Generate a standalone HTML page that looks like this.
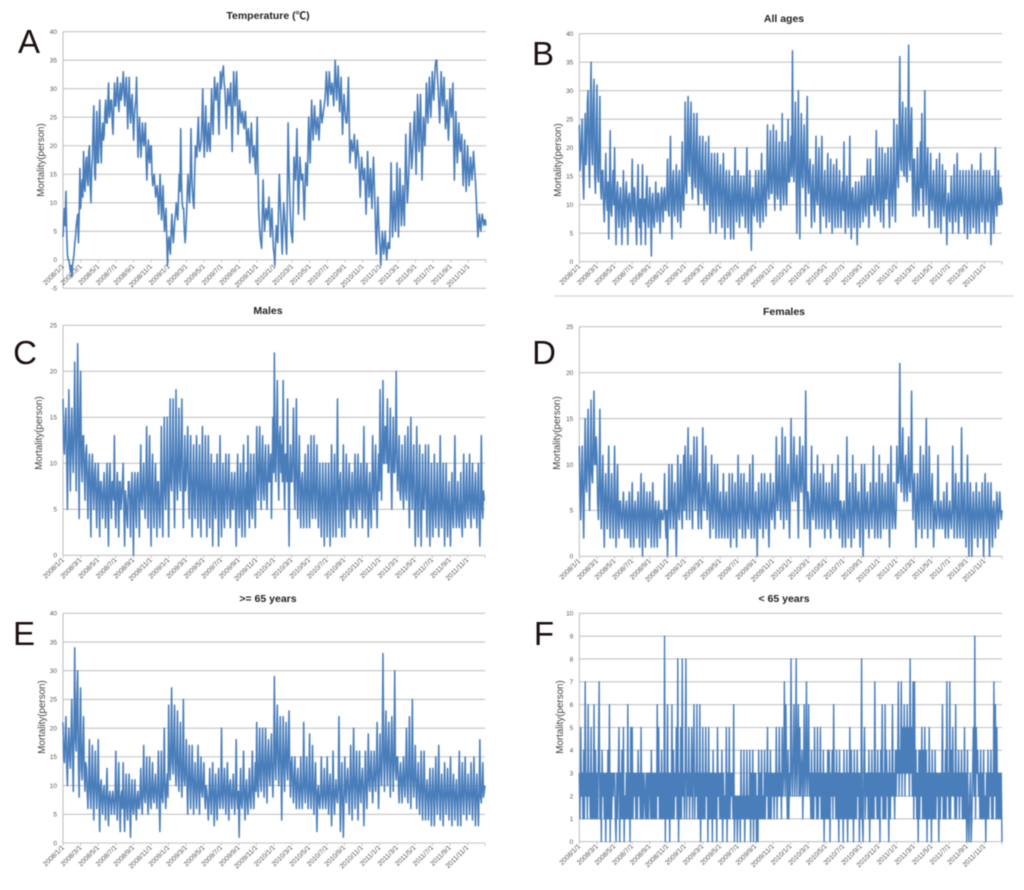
<!DOCTYPE html>
<html lang="en">
<head>
<meta charset="utf-8">
<title>Temperature and mortality time series, 2008–2011</title>
<style>
  html,body{margin:0;padding:0;background:#fff;}
  #figure{display:block;width:1024px;height:890px;filter:blur(0.45px);}
  text{font-family:"Liberation Sans","Noto Sans CJK SC",sans-serif;}
</style>
</head>
<body>
<svg id="figure" xmlns="http://www.w3.org/2000/svg" width="1024" height="890" viewBox="0 0 1024 890">
  <rect width="1024" height="890" fill="#fff"/>
  <line x1="554" y1="296" x2="1014" y2="296" stroke="#d4d4d4" stroke-width="1.2"/>
</svg>
<script>
const xTickLabels = ["2008/1/1","2008/3/1","2008/5/1","2008/7/1","2008/9/1","2008/11/1","2009/1/1","2009/3/1","2009/5/1","2009/7/1","2009/9/1","2009/11/1","2010/1/1","2010/3/1","2010/5/1","2010/7/1","2010/9/1","2010/11/1","2011/1/1","2011/3/1","2011/5/1","2011/7/1","2011/9/1","2011/11/1"];

const temperatureTicks = [-5,0,5,10,15,20,25,30,35,40];
const fortyTicks = [0,5,10,15,20,25,30,35,40];
const twentyFiveTicks = [0,5,10,15,20,25];
const tenTicks = [0,1,2,3,4,5,6,7,8,9,10];

const temperatureValues = [
4,7,9,6,12,5,1,0,0,-1,-2,-1,-3,-1,0,1,3,4,6,7,8,3,8,16,
9,12,14,11,19,13,12,17,18,14,13,19,20,13,10,16,18,24,27,15,14,21,26,17,
17,24,28,20,17,22,24,21,22,26,28,24,24,28,31,25,26,28,28,24,22,27,31,27,
27,30,32,28,26,29,31,28,29,31,33,29,27,30,32,28,23,28,32,26,24,28,29,25,
21,25,27,28,32,24,18,22,25,21,18,21,24,21,20,22,24,18,14,18,21,18,17,20,
20,15,13,14,15,13,11,12,13,11,8,11,15,11,7,10,13,8,5,7,9,4,-1,3,
4,2,1,5,8,5,3,5,7,8,10,8,7,11,15,12,23,14,10,9,9,5,3,5,
8,12,15,12,10,14,23,15,12,10,9,15,20,19,18,22,25,20,19,20,21,25,30,22,
18,23,27,22,19,22,24,20,19,24,30,26,22,27,32,29,28,30,31,26,22,28,33,30,
32,33,34,31,30,27,23,27,30,28,27,29,31,25,19,27,33,29,27,30,33,28,22,25,
28,26,24,25,26,24,23,25,26,23,20,22,23,20,17,21,24,21,18,19,20,17,15,20,
25,16,9,6,4,3,2,8,14,9,5,7,9,8,7,9,11,7,4,7,9,5,2,1,
-1,3,6,4,3,9,15,11,8,4,1,6,10,8,6,3,1,12,24,17,12,8,5,4,
3,10,18,15,14,18,23,15,8,13,18,16,14,15,15,11,7,12,17,15,13,19,25,21,
17,23,28,24,21,24,27,24,22,24,25,23,21,24,28,26,24,25,26,27,28,30,33,30,
27,30,33,31,29,30,31,29,27,31,35,31,28,31,34,30,26,29,32,27,22,26,29,27,
25,24,24,28,32,25,17,19,21,20,19,20,22,19,16,18,21,19,18,15,11,15,18,16,
14,15,16,12,8,13,19,15,11,13,16,12,9,14,18,14,10,5,1,6,11,7,4,2,
-1,2,5,3,1,3,5,2,0,2,3,2,2,9,17,10,4,8,12,8,5,10,17,10,
4,10,16,11,6,9,13,9,6,14,22,16,10,12,15,20,24,20,16,18,21,24,26,20,
15,22,29,24,19,24,29,22,14,20,25,22,20,25,31,27,24,28,32,28,25,29,33,30,
28,31,34,35,35,32,30,27,24,28,33,30,27,29,32,27,23,25,28,24,21,25,30,27,
25,28,31,22,14,20,26,21,17,20,24,21,19,20,22,17,13,17,21,16,12,16,20,16,
13,15,18,16,14,16,19,17,15,13,10,7,4,6,8,6,5,7,8,7,6,7,7,6];

const allAgesValues = [
24,16,18,22,25,15,11,20,26,17,19,28,30,18,13,26,35,20,17,28,32,15,12,24,
31,15,14,20,29,13,11,16,16,10,7,13,19,11,9,14,4,12,23,9,8,13,16,10,
20,9,3,12,14,9,6,11,13,9,3,10,16,8,6,12,14,10,3,11,12,9,7,11,
18,9,8,13,11,7,3,12,17,9,6,11,3,10,17,8,7,11,3,12,15,9,6,10,
13,8,1,11,12,7,6,10,14,9,7,12,12,8,5,11,13,9,7,12,13,9,9,12,
18,9,8,13,22,10,4,14,16,9,8,13,17,10,7,14,16,9,6,13,21,10,9,14,
28,14,12,22,29,16,15,23,28,14,11,20,26,14,13,21,26,13,10,19,22,13,12,18,
22,12,9,17,21,11,10,16,22,12,5,15,19,10,7,14,19,11,5,15,19,12,8,14,
17,10,6,14,19,11,4,13,16,10,6,13,16,9,4,12,15,10,4,13,20,10,7,12,
16,10,6,13,15,9,8,12,15,10,6,13,20,9,5,12,16,10,2,11,13,9,8,12,
16,10,7,13,16,9,6,12,19,10,7,13,16,11,8,14,24,13,11,17,23,12,12,16,
24,13,9,17,23,12,11,16,21,12,9,16,26,13,10,17,21,12,10,16,25,14,14,18,
22,15,37,18,14,20,28,15,5,17,30,14,4,18,26,15,13,20,24,14,8,18,29,14,
12,16,18,11,6,14,17,10,7,13,22,11,10,15,20,10,5,14,22,10,8,13,16,10,
6,12,19,10,7,13,18,9,5,12,17,10,6,13,18,9,6,12,16,10,6,12,14,9,
21,10,5,12,15,9,6,11,22,9,4,12,13,9,6,11,14,9,3,11,14,9,6,12,
15,10,7,12,15,9,8,13,18,10,6,12,18,10,10,13,15,9,8,12,23,11,9,14,
20,10,7,13,20,11,6,14,19,11,11,15,20,10,6,13,20,12,8,14,25,12,7,15,
24,16,13,21,36,18,16,24,28,16,15,22,27,15,14,22,38,18,16,24,27,14,8,18,
18,11,8,14,20,11,9,15,21,13,26,12,8,16,30,14,10,17,20,11,6,13,19,11,
9,13,16,10,6,12,18,10,6,12,19,10,5,11,17,10,8,12,16,9,3,10,12,9,
7,11,15,9,5,11,17,9,7,11,19,10,5,11,16,9,8,12,16,9,5,11,16,9,
4,10,16,9,5,11,17,10,6,11,16,9,5,10,16,9,5,11,19,10,7,12,16,9,
5,10,16,9,7,11,16,10,3,10,15,9,5,11,20,10,8,12,16,10,10,13,12,10];

const malesValues = [
17,12,11,14,16,11,5,12,18,12,7,13,16,11,9,14,21,12,7,14,23,13,4,15,
20,10,8,13,13,9,6,11,12,8,4,9,11,7,2,9,11,7,5,9,10,6,3,8,
10,6,2,8,8,6,4,7,9,6,3,7,10,5,1,8,10,6,4,8,8,6,13,5,
3,7,9,6,2,8,8,5,6,8,10,5,1,7,6,4,3,8,8,6,2,7,9,5,
0,7,9,5,3,8,9,6,2,7,12,6,5,8,10,6,4,8,14,7,3,8,13,6,
1,8,11,6,3,7,10,6,2,8,8,5,3,7,14,6,2,8,15,7,5,9,15,7,
2,9,17,8,7,11,17,8,3,10,18,8,6,11,16,8,7,12,17,8,3,9,13,7,
8,11,14,7,4,9,13,7,2,8,12,6,4,9,13,7,3,8,12,6,2,9,14,6,
4,8,13,6,2,8,13,7,3,8,11,6,1,7,10,5,4,8,11,6,1,7,13,6,
2,7,10,5,3,8,11,6,4,8,11,6,3,7,9,5,5,8,9,5,1,7,11,6,
3,7,10,5,2,8,12,6,2,7,9,5,13,6,3,8,11,5,4,8,11,6,3,8,
14,8,6,10,14,8,5,10,13,7,6,10,12,7,5,9,12,8,8,11,4,9,15,9,
22,10,8,14,19,10,6,13,14,9,12,8,19,9,5,11,11,8,17,9,1,9,12,8,
8,11,16,8,5,10,17,7,4,9,13,6,3,8,9,6,3,8,11,6,3,8,12,6,
3,7,13,6,4,8,13,6,4,8,12,6,3,7,10,5,2,7,10,6,1,7,10,5,
2,7,10,5,1,7,12,6,2,7,11,5,2,8,17,7,3,8,9,5,2,7,12,6,
2,7,11,5,5,8,10,6,3,7,9,5,4,8,11,6,3,8,11,6,5,8,10,6,
3,8,14,6,4,8,10,6,2,7,9,5,3,8,13,7,5,9,12,6,3,8,11,7,
18,10,6,12,19,10,10,14,14,10,17,9,9,12,16,9,5,11,15,9,9,12,20,10,
7,10,13,7,6,9,12,7,5,9,13,7,6,10,14,7,3,9,15,7,5,9,12,6,
1,7,14,6,2,8,12,6,1,6,11,5,5,8,12,6,2,7,12,5,1,6,10,5,
2,6,11,5,3,7,10,5,2,6,13,5,3,7,10,5,1,6,10,5,2,6,8,4,
1,6,9,4,3,7,13,5,3,6,8,4,3,6,9,4,2,6,11,5,3,7,10,5,
4,7,11,5,3,7,10,5,4,7,9,5,3,7,10,5,1,6,13,5,4,7,6,6];

const femalesValues = [
12,7,4,9,12,6,2,9,15,8,7,11,16,9,5,10,17,9,8,12,18,10,10,13,
11,6,4,8,16,6,3,8,11,5,1,7,9,5,3,7,12,5,2,6,9,5,2,6,
12,5,1,6,10,4,2,6,6,4,3,5,7,4,2,5,6,4,2,5,7,4,1,5,
8,4,1,5,6,4,2,5,7,4,1,5,9,4,0,5,8,4,1,5,7,4,2,5,
7,4,1,5,8,4,1,5,6,3,1,5,6,4,2,5,5,4,4,5,9,4,2,5,
0,5,10,5,3,6,10,5,3,6,8,4,0,5,11,5,4,7,10,5,3,7,11,5,
12,7,4,8,14,7,4,9,11,6,3,8,13,7,5,9,13,6,3,8,9,5,3,7,
14,6,5,8,12,6,4,7,8,5,2,6,11,5,3,7,10,5,2,6,10,5,2,6,
7,4,2,5,9,4,2,6,7,4,2,5,9,4,1,5,9,5,2,6,8,4,1,5,
11,5,3,6,9,5,2,6,9,4,2,5,8,4,3,6,10,5,2,5,11,5,2,5,
7,4,0,5,8,4,3,6,9,5,2,5,9,5,3,6,8,4,1,5,9,5,4,6,
8,5,3,6,13,6,5,8,11,6,4,7,14,7,3,7,13,6,4,8,10,5,2,7,
15,8,6,9,13,8,6,9,11,7,2,8,13,8,7,10,12,7,3,8,18,7,3,7,
6,4,1,6,12,5,4,7,9,5,3,6,11,5,3,7,9,5,3,6,10,5,2,6,
8,5,3,6,8,4,2,6,10,5,4,6,9,5,3,6,11,5,2,6,6,4,1,5,
6,4,1,5,13,5,2,6,8,4,1,5,11,5,2,6,9,5,3,6,7,4,1,5,
10,5,0,5,10,5,3,6,7,4,2,5,8,5,3,6,12,5,2,6,8,4,2,5,
11,5,2,6,9,5,3,6,8,5,3,6,10,5,1,6,12,5,3,6,8,4,3,5,
12,8,8,10,21,9,7,11,14,8,6,10,11,7,6,9,13,8,7,10,18,8,4,8,
9,5,1,6,9,5,3,7,12,6,2,7,11,6,3,7,15,6,2,7,12,6,3,7,
9,5,1,5,6,4,3,5,11,5,3,5,6,4,3,5,7,4,2,5,8,4,2,5,
6,4,3,5,12,5,2,6,9,5,2,5,8,4,2,5,14,5,2,6,8,4,1,5,
11,5,0,5,8,4,0,5,7,4,2,5,8,4,1,5,7,4,2,5,8,4,0,5,
9,5,2,5,8,4,0,5,8,4,1,5,6,4,2,5,7,5,3,5,7,5,4,5];

const olderValues = [
21,15,14,18,22,14,10,17,20,15,13,19,25,15,9,20,34,18,16,25,30,14,8,19,
27,13,11,17,22,12,9,14,13,9,6,11,18,9,6,11,17,9,4,11,16,9,6,10,
18,8,2,10,11,7,5,9,10,7,4,9,13,7,3,8,9,7,5,8,9,7,5,8,
16,7,4,9,14,7,2,8,9,6,14,6,2,8,12,6,4,8,12,6,1,8,11,6,
5,8,11,6,4,8,9,6,6,9,13,7,5,10,17,8,7,10,15,8,5,9,15,8,
6,10,14,8,7,10,12,8,6,10,16,8,2,9,16,8,7,11,20,9,6,10,12,8,
24,14,11,17,27,14,12,18,24,13,10,16,23,12,9,15,21,12,8,14,25,11,10,13,
18,10,5,12,17,10,6,12,17,10,5,11,14,9,6,11,17,9,5,11,15,9,8,11,
14,8,6,10,9,7,4,8,13,8,5,9,14,8,3,9,12,7,4,9,13,8,6,9,
20,8,6,10,13,8,5,10,14,8,4,10,11,8,6,9,12,8,5,9,18,8,6,9,
1,8,13,7,6,9,16,8,4,9,11,7,5,9,13,8,6,10,16,9,6,10,14,9,
21,11,8,14,20,11,9,15,20,12,8,14,20,12,7,15,18,12,10,15,19,12,8,14,
29,14,11,18,24,14,10,16,22,13,4,15,22,13,9,16,21,13,11,17,23,12,8,14,
15,10,7,12,15,9,6,11,13,9,6,10,15,9,6,10,21,10,7,11,15,9,6,10,
19,9,6,10,17,9,5,10,14,8,2,9,10,7,6,9,15,8,6,9,13,8,6,9,
15,8,5,10,12,8,3,9,16,8,5,9,11,8,7,10,22,9,2,9,14,7,1,8,
15,9,7,11,13,9,5,10,17,10,4,11,20,10,6,11,16,9,4,10,16,9,7,11,
13,9,3,10,16,10,6,11,19,11,9,13,16,10,7,12,16,11,9,13,21,12,6,12,
19,13,10,16,33,15,9,16,23,14,10,17,21,13,8,15,22,14,9,16,30,13,11,15,
15,10,7,12,14,10,7,12,15,10,8,13,20,10,7,13,22,11,6,12,25,11,8,12,
17,10,6,11,14,9,5,10,16,9,4,10,16,9,4,9,11,8,4,9,13,8,3,9,
13,8,3,9,15,8,5,10,17,8,4,9,12,8,3,9,14,8,5,9,13,8,4,9,
15,8,3,9,12,8,4,9,11,7,3,9,16,8,3,9,14,8,5,10,15,8,4,9,
12,8,5,9,14,8,4,9,15,8,3,9,12,7,3,9,18,8,7,10,14,8,9,10];

const youngerValues = [
3,1,5,2,3,1,4,1,7,2,3,1,6,2,3,1,5,1,3,1,6,1,4,1,
3,1,4,7,1,3,0,4,2,3,1,3,0,3,1,4,1,6,0,3,1,3,2,3,
3,1,0,3,1,3,5,0,3,1,4,1,5,0,2,1,3,1,6,1,3,0,5,1,
5,1,3,2,3,1,3,1,4,2,3,1,5,1,3,1,3,2,1,3,1,3,1,3,
3,1,4,1,3,1,3,1,3,1,6,2,5,1,3,1,4,1,3,1,9,0,3,1,
6,1,3,0,3,1,6,1,4,1,3,2,5,1,8,0,3,1,5,1,8,2,3,1,
3,8,1,3,2,5,1,3,2,5,1,3,6,1,3,2,6,1,3,1,6,0,3,1,
5,1,3,1,5,2,3,0,5,1,3,1,3,0,4,1,3,1,3,0,5,2,3,1,
3,1,4,0,3,1,2,1,5,0,3,1,5,1,3,2,3,1,6,0,2,1,2,0,
2,1,2,0,4,1,2,1,4,0,2,1,4,1,2,1,4,0,3,1,4,0,3,1,
3,0,2,0,4,1,3,1,4,1,2,1,4,1,3,2,5,1,3,1,4,1,3,2,
3,1,3,2,5,1,3,2,5,2,3,1,5,2,3,7,2,6,3,1,4,1,3,2,
8,3,2,4,6,2,3,8,2,4,6,2,5,2,3,4,1,3,6,2,3,7,2,3,
6,2,3,1,4,1,3,1,5,2,3,1,5,1,3,2,5,1,3,1,4,0,3,1,
3,1,4,1,4,0,3,2,4,1,6,2,3,1,4,1,3,0,4,1,3,1,3,0,
4,1,3,1,4,0,3,1,5,1,4,1,3,0,4,1,3,1,4,2,3,0,3,1,
8,1,0,3,5,1,3,2,3,1,4,0,3,1,4,1,3,1,7,2,3,1,4,1,
3,0,4,2,6,1,3,1,6,1,4,2,3,0,4,1,3,2,6,2,3,1,4,2,
4,3,7,2,4,3,7,2,5,3,6,2,5,3,6,3,5,2,8,3,5,2,7,1,
7,2,4,1,3,0,4,1,4,2,5,1,4,1,5,1,4,0,3,1,5,1,3,0,
4,1,3,1,4,1,3,2,3,0,3,1,3,2,6,1,3,1,4,1,7,2,3,1,
7,1,4,2,5,2,3,1,6,1,3,2,4,1,3,2,4,1,3,1,5,1,3,0,
4,1,0,2,3,0,1,3,5,2,9,1,5,3,4,2,3,1,4,1,3,1,4,1,
2,0,3,1,4,1,3,2,4,1,3,1,7,2,6,1,5,1,3,1,3,1,3,0];

const NS = 'http://www.w3.org/2000/svg';
const root = document.getElementById('figure');

function make(parent, tag, attrs, text) {
  const el = document.createElementNS(NS, tag);
  for (const k in attrs) el.setAttribute(k, attrs[k]);
  if (text !== undefined) el.textContent = text;
  parent.appendChild(el);
  return el;
}

function drawPanel(p) {
  const group = make(root, 'g', {});
  
  

  const yMin = p.ticks[0];
  const yMax = p.ticks[p.ticks.length - 1];
  const yScale = v => p.yTop + (yMax - v) / (yMax - yMin) * (p.yBottom - p.yTop);
  const xScale = i => p.x0 + i / (p.values.length - 1) * (p.x1 - p.x0);
  const xTick = i => p.x0 + i / xTickLabels.length * (p.x1 - p.x0);
  const xAxisY = yScale(Math.max(0, yMin));

  p.ticks.forEach(t => {
    const grid = make(group, 'line', {x1: p.x0, x2: p.x1, y1: yScale(t), y2: yScale(t), stroke: '#c4c4c4', 'stroke-width': 1.1});
    
    
    const label = make(group, 'text', {x: p.x0 - 6, y: yScale(t) + 2.3, 'text-anchor': 'end', 'font-size': 6.5, fill: '#555'}, String(t));
    
    
  });

  const yAxis = make(group, 'line', {x1: p.x0, x2: p.x0, y1: p.yTop, y2: p.yBottom, stroke: '#bcbcbc', 'stroke-width': 1});
  
  

  for (let i = 0; i <= xTickLabels.length; i++) {
    const mark = make(group, 'line', {x1: xTick(i), x2: xTick(i), y1: xAxisY, y2: xAxisY + 3, stroke: '#bcbcbc', 'stroke-width': 0.8});
    
    
  }

  xTickLabels.forEach((t, i) => {
    const lx = xTick(i) + 1.5;
    const ly = xAxisY + p.labelGap;
    const label = make(group, 'text', {x: lx, y: ly, 'text-anchor': 'end', 'font-size': 6.8, fill: '#555', transform: 'rotate(-45 ' + lx + ' ' + ly + ')'}, t);
    
    
  });

  const points = p.values.map((v, i) => xScale(i).toFixed(2) + ',' + yScale(v).toFixed(2)).join(' ');
  const series = make(group, 'polyline', {points: points, fill: 'none', stroke: '#4a7ebb', 'stroke-width': p.stroke, 'stroke-linejoin': 'round'});
  
  

  const title = make(group, 'text', {x: p.titleX, y: p.titleY, 'text-anchor': 'middle', 'font-size': 10.5, 'font-weight': 'bold', fill: '#222'}, p.title);
  
  

  const axisTitle = make(group, 'text', {x: p.axisX, y: p.axisY, 'text-anchor': 'middle', 'font-size': 9.8, fill: '#444', transform: 'rotate(-90 ' + p.axisX + ' ' + p.axisY + ')'}, 'Mortality(person)');
  
  

  const letter = make(group, 'text', {x: p.letterX, y: p.letterY, 'text-anchor': 'middle', 'font-size': 33, fill: '#1c0f0f'}, p.letter);
  
  
}

drawPanel({name:'temperature-panel', values:temperatureValues, ticks:temperatureTicks, title:'Temperature (℃)', letter:'A',
  x0:63, x1:486, yTop:31.7, yBottom:288.3, labelGap:7, stroke:1.6,
  titleX:268, titleY:19, axisX:44, axisY:160, letterX:29, letterY:53});
drawPanel({name:'all-ages-panel', values:allAgesValues, ticks:fortyTicks, title:'All ages', letter:'B',
  x0:579.3, x1:1002, yTop:33.7, yBottom:261.7, labelGap:5, stroke:1.55,
  titleX:784, titleY:22, axisX:561, axisY:160, letterX:543, letterY:65});
drawPanel({name:'males-panel', values:malesValues, ticks:twentyFiveTicks, title:'Males', letter:'C',
  x0:63, x1:485, yTop:325.3, yBottom:555.3, labelGap:5, stroke:1.55,
  titleX:268, titleY:314, axisX:42, axisY:433, letterX:25, letterY:364});
drawPanel({name:'females-panel', values:femalesValues, ticks:twentyFiveTicks, title:'Females', letter:'D',
  x0:579.3, x1:1002, yTop:326.7, yBottom:556.3, labelGap:5, stroke:1.55,
  titleX:784, titleY:315, axisX:560, axisY:433, letterX:544, letterY:364});
drawPanel({name:'older-adults-panel', values:olderValues, ticks:fortyTicks, title:'>= 65 years', letter:'E',
  x0:63, x1:485, yTop:613.3, yBottom:843, labelGap:5, stroke:1.55,
  titleX:268, titleY:602, axisX:45, axisY:717, letterX:24, letterY:645});
drawPanel({name:'younger-adults-panel', values:youngerValues, ticks:tenTicks, title:'< 65 years', letter:'F',
  x0:579.3, x1:1002, yTop:613.3, yBottom:841.7, labelGap:5, stroke:1.4,
  titleX:784, titleY:602, axisX:563, axisY:717, letterX:544, letterY:645});
</script>
</body>
</html>
